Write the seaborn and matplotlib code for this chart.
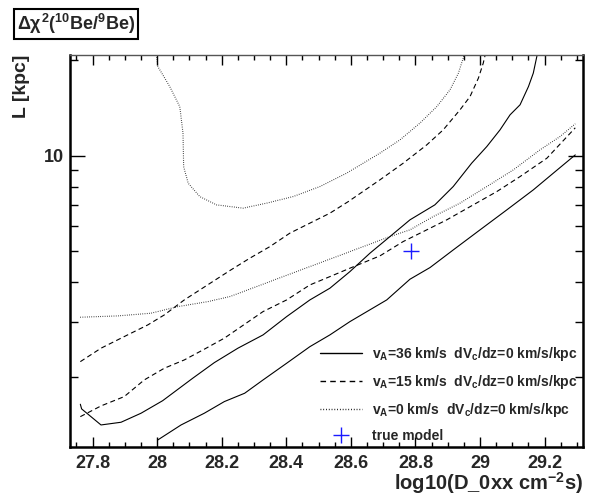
import numpy as np
import pandas as pd
import matplotlib
matplotlib.use('Agg')
import matplotlib.pyplot as plt
from matplotlib.lines import Line2D
from matplotlib.ticker import FixedLocator, NullFormatter, MultipleLocator
import seaborn as sns

# contorno v_A=36 (solido), rama superior e inferior
x_36_up = [27.762, 27.766, 27.826, 27.888, 27.950, 28.017, 28.110, 28.177, 28.250, 28.328,
           28.401, 28.473, 28.535, 28.597, 28.659, 28.721, 28.783, 28.860, 28.917, 28.974,
           29.021, 29.062, 29.093, 29.124, 29.150, 29.165, 29.177]
L_36_up = [1.647, 1.592, 1.417, 1.445, 1.543, 1.690, 1.989, 2.228, 2.474, 2.725,
           3.112, 3.513, 3.825, 4.315, 4.932, 5.565, 6.284, 7.005, 8.003, 9.48,
           10.70, 12.08, 13.47, 14.49, 16.54, 18.24, 20.83]
x_36_lo = [28.002, 28.074, 28.146, 28.208, 28.271, 28.328, 28.401, 28.473, 28.535, 28.597,
           28.711, 28.783, 28.845, 28.917, 29.000, 29.083, 29.165, 29.227, 29.295]
L_36_lo = [1.271, 1.417, 1.543, 1.679, 1.784, 1.965, 2.218, 2.502, 2.725, 3.001,
           3.513, 4.083, 4.443, 5.050, 5.843, 6.756, 7.811, 8.819, 10.07]

# contorno v_A=15 (discontinuo)
x_15_up = [27.762, 27.826, 27.898, 27.971, 28.022, 28.084, 28.225, 28.287, 28.349, 28.411,
           28.473, 28.535, 28.592, 28.690, 28.762, 28.835, 28.886, 28.938, 28.969, 28.995,
           29.010, 29.016]
L_15_up = [2.244, 2.474, 2.692, 2.930, 3.150, 3.513, 4.347, 4.757, 5.173, 5.705,
           6.135, 6.595, 7.175, 8.402, 9.48, 10.83, 12.08, 13.97, 15.38, 17.59,
           19.61, 20.83]
x_15_lo = [27.762, 27.826, 27.898, 27.960, 28.022, 28.084, 28.146, 28.208, 28.328, 28.401,
           28.473, 28.535, 28.597, 28.690, 28.762, 28.835, 28.897, 28.979, 29.052, 29.124,
           29.207, 29.295]
L_15_lo = [1.505, 1.627, 1.741, 1.965, 2.139, 2.272, 2.456, 2.661, 3.228, 3.513,
           3.917, 4.161, 4.423, 4.837, 5.367, 5.843, 6.284, 7.005, 7.716, 8.604,
           9.83, 12.26]

# contorno v_A=0 (punteado)
x_0_up = [27.998, 28.002, 28.039, 28.070, 28.080, 28.082, 28.096, 28.132, 28.184, 28.266,
          28.339, 28.421, 28.504, 28.587, 28.690, 28.752, 28.814, 28.866, 28.907, 28.933,
          28.948, 28.950]
L_0_up = [20.83, 19.13, 16.54, 14.30, 11.79, 9.25, 8.20, 7.44, 7.005, 6.84,
          7.093, 7.44, 8.00, 8.82, 10.20, 11.23, 12.69, 14.30, 16.15, 18.24,
          20.33, 20.83]
x_0_lo = [27.762, 27.878, 27.981, 28.064, 28.157, 28.225, 28.308, 28.390, 28.473, 28.556,
          28.638, 28.721, 28.783, 28.855, 28.938, 29.021, 29.103, 29.186, 29.248, 29.295]
L_0_lo = [3.098, 3.128, 3.190, 3.346, 3.470, 3.599, 3.870, 4.161, 4.475, 4.812,
          5.173, 5.565, 5.843, 6.436, 7.093, 8.003, 9.03, 10.45, 11.51, 12.62]

# modelo verdadero
true_x = [28.785]
true_L = [5.0]

labels = [r'v$_{A}$=36 km/s  dV$_{c}$/dz=0 km/s/kpc',
          r'v$_{A}$=15 km/s  dV$_{c}$/dz=0 km/s/kpc',
          r'v$_{A}$=0 km/s  dV$_{c}$/dz=0 km/s/kpc',
          'true model']

sns.set_style('white')
plt.rcParams['font.family'] = ['Liberation Sans', 'DejaVu Sans']
plt.rcParams['font.weight'] = 'bold'
plt.rcParams['mathtext.fontset'] = 'custom'
plt.rcParams['mathtext.rm'] = 'Liberation Sans:bold'
plt.rcParams['mathtext.it'] = 'Liberation Sans:bold'
plt.rcParams['mathtext.bf'] = 'Liberation Sans:bold'
plt.rcParams['mathtext.sf'] = 'Liberation Sans:bold'

fig = plt.figure(figsize=(5.92, 4.95), dpi=100)
ax = fig.add_axes([70/592, 1-446.7/495, (582.7-70)/592, (446.7-55)/495])

dash = (4.5, 3)
dot = (0.6, 1.4)
branches = [
    (x_36_up, L_36_up, None), (x_36_lo, L_36_lo, None),
    (x_15_up, L_15_up, dash), (x_15_lo, L_15_lo, dash),
    (x_0_up, L_0_up, dot), (x_0_lo, L_0_lo, dot),
]
for xs, ys, d in branches:
    df = pd.DataFrame({'x': xs, 'L': ys})
    sns.lineplot(data=df, x='x', y='L', sort=False, estimator=None,
                 color='black', linewidth=0.8, ax=ax)
    if d is not None:
        ax.lines[-1].set_dashes(d)

ax.plot(true_x, true_L, marker='+', color='#1a1aff', markersize=11, mew=1.0, ls='none')

ax.set_yscale('log')
ax.set_xlim(27.73, 29.318)
ax.set_ylim(1.21, 20.8)

ax.xaxis.set_minor_locator(MultipleLocator(0.05))
ax.set_xticks([27.8, 28, 28.2, 28.4, 28.6, 28.8, 29, 29.2])
ax.set_xticklabels(['27.8', '28', '28.2', '28.4', '28.6', '28.8', '29', '29.2'])
ax.yaxis.set_major_locator(FixedLocator([10]))
ax.yaxis.set_minor_locator(FixedLocator([2, 3, 4, 5, 6, 7, 8, 9, 20]))
ax.set_yticklabels(['10'])
ax.yaxis.set_minor_formatter(NullFormatter())

ax.tick_params(axis='both', which='both', direction='in', top=True, right=True,
               bottom=True, left=True, labelsize=13, width=1.0, color='black')
ax.tick_params(axis='x', which='major', length=7.5, pad=6)
ax.tick_params(axis='x', which='minor', length=3.8)
ax.tick_params(axis='y', which='major', length=11, pad=4)
ax.tick_params(axis='y', which='minor', length=5.5)
for lab in ax.get_xticklabels() + ax.get_yticklabels():
    lab.set_fontweight('bold')

ax.set_xlabel('')
ax.set_ylabel('')
for s in ['left', 'bottom', 'right']:
    ax.spines[s].set_linewidth(1.8)
    ax.spines[s].set_color('black')
ax.spines['top'].set_linewidth(1.0)
ax.spines['top'].set_color('#555555')

fig.text(583/592, 1-490/495, r'log10(D_0xx cm$^{-2}$s)', ha='right', va='baseline',
         fontsize=14.5, fontweight='bold')
fig.text(21/592, 1-55/495, 'L [kpc]', ha='center', va='top', rotation=90,
         fontsize=14, fontweight='bold')
fig.text(17/592, 1-30/495, r'$\Delta\chi^{2}(^{10}$Be/$^{9}$Be)', ha='left', va='baseline',
         fontsize=13, fontweight='bold',
         bbox=dict(boxstyle='square,pad=0.18', facecolor='white', edgecolor='black', linewidth=1.5))

handles = [Line2D([], [], color='black', lw=1.0),
           Line2D([], [], color='black', lw=1.0, dashes=(4, 3)),
           Line2D([], [], color='black', lw=1.0, dashes=(0.6, 1.4)),
           Line2D([], [], color='#1a1aff', marker='+', ls='none', markersize=11, mew=1.0)]
leg = ax.legend(handles, labels, loc='upper left', bbox_to_anchor=((320-70)/512.7, (446.7-345)/391.7),
                frameon=False, fontsize=10, handlelength=3.0, handletextpad=0.75,
                labelspacing=0.72, borderpad=0, borderaxespad=0)
for t in leg.get_texts():
    t.set_fontweight('bold')

fig.savefig('out.png', dpi=100)
